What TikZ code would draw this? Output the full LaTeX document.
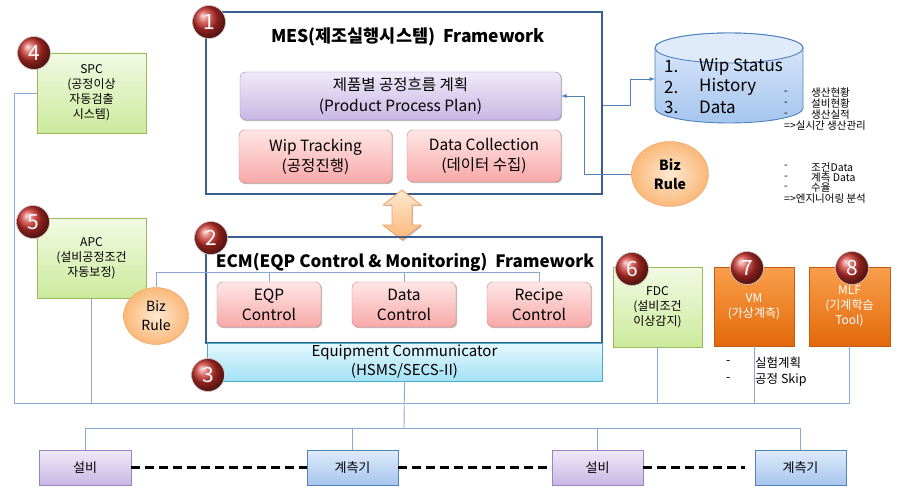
\documentclass[tikz,border=0pt]{standalone}
\usepackage{fontspec}
\setmainfont{Noto Sans CJK KR}
\usetikzlibrary{shapes.geometric,shadows,calc}
\definecolor{frameblue}{HTML}{3A5F8F}
\definecolor{linkblue}{HTML}{4F81BD}
\definecolor{busblue}{HTML}{8AA8D4}
\definecolor{greenT}{HTML}{F2FAE4}
\definecolor{greenB}{HTML}{CCEA9C}
\definecolor{greenD}{HTML}{9BBB59}
\definecolor{pinkT}{HTML}{FFE6E6}
\definecolor{pinkB}{HTML}{F8A8A8}
\definecolor{pinkD}{HTML}{D98080}
\definecolor{purT}{HTML}{EFEAF8}
\definecolor{purB}{HTML}{C8B7E4}
\definecolor{purD}{HTML}{9A84C4}
\definecolor{oraT}{HTML}{FA9F4C}
\definecolor{oraB}{HTML}{E2690A}
\definecolor{oraD}{HTML}{C55A11}
\definecolor{borT}{HTML}{FEE8D0}
\definecolor{borB}{HTML}{FAB879}
\definecolor{borD}{HTML}{F0A060}
\definecolor{cyT}{HTML}{E4F8FE}
\definecolor{cyB}{HTML}{A4E1F6}
\definecolor{cyD}{HTML}{4BACC6}
\definecolor{mbT}{HTML}{DFEBFB}
\definecolor{mbB}{HTML}{A6C5EE}
\definecolor{mbD}{HTML}{4F81BD}
\definecolor{badgeC}{HTML}{C8302A}
\tikzset{
  shad/.style={drop shadow={shadow xshift=1.2pt, shadow yshift=-1.2pt, opacity=0.25, fill=black}},
  frame/.style={draw=frameblue, line width=2.5pt},
  purbox/.style={shad, rounded corners=6pt, draw=purD, top color=purT, bottom color=purB, font=\fontsize{15.5}{21}\selectfont},
  pinkbox/.style={shad, rounded corners=6pt, draw=pinkD, top color=pinkT, bottom color=pinkB, font=\fontsize{15.5}{20}\selectfont},
  greenbox/.style={shad, draw=greenD, top color=greenT, bottom color=greenB, font=\fontsize{12}{15}\selectfont},
  orabox/.style={shad, draw=oraD, top color=oraT, bottom color=oraB, text=white, font=\fontsize{12}{15}\selectfont},
  cyanbox/.style={shad, draw=cyD, top color=cyT, bottom color=cyB, font=\fontsize{15}{19}\selectfont},
  equipbox/.style={shad, draw=purD, top color=purT, bottom color=purB, font=\fontsize{13}{15}\selectfont},
  meterbox/.style={shad, draw=mbD, top color=mbT, bottom color=mbB, font=\fontsize{13}{15}\selectfont},
  bizrule/.style={ellipse, draw=borD, inner color=borT, outer color=borB, font=\fontsize{14}{19}\selectfont},
  badge/.style={circle, minimum size=33pt, ball color=badgeC, draw=gray!40, line width=0.6pt, text=white, font=\fontsize{21}{21}\selectfont},
  link/.style={draw=linkblue, line width=0.9pt},
  bus/.style={draw=busblue, line width=0.9pt},
  note/.style={anchor=west, font=\fontsize{10.5}{11}\selectfont},
  vmnote/.style={anchor=west, font=\fontsize{12.5}{14}\selectfont},
  cyltext/.style={anchor=west, font=\fontsize{17}{20}\selectfont},
}
\begin{document}
\begin{tikzpicture}[x=1pt,y=-1pt, every node/.style={inner sep=0pt, align=center}, >={latex}]
\useasboundingbox (0,0) rectangle (900,500);
\fill[white] (0,0) rectangle (900,500);

% ---- bus lines (background) ----
\coordinate (busL) at (14,403);
\coordinate (busB) at (404,428);

% ---- side boxes ----
\node[greenbox, minimum width=109pt, minimum height=80pt] (spc) at (91.5,93) {SPC\\(공정이상\\자동검출\\시스템)};
\node[greenbox, minimum width=109pt, minimum height=80pt] (apc) at (91.5,258) {APC\\(설비공정조건\\자동보정)};
\node[greenbox, minimum width=89pt, minimum height=80pt] (fdc) at (657.5,307) {FDC\\(설비조건\\이상감지)};
\node[orabox, minimum width=80pt, minimum height=79pt] (vm) at (754,306.5) {VM\\(가상계측)};
\node[orabox, minimum width=81pt, minimum height=79pt] (mlf) at (849.5,306.5) {MLF\\(기계학습\\Tool)};

\draw[bus] (spc.west) -| (busL) -| (mlf.south);
\draw[bus] (apc.south) -- (apc.south |- busL);
\draw[bus] (fdc.south) -- (fdc.south |- busL);
\draw[bus] (vm.south) -- (vm.south |- busL);

% ---- MES frame ----
\node[frame, minimum width=396pt, minimum height=182pt] (mes) at (404,103) {};
\node[font=\fontsize{17.5}{17.5}\selectfont\bfseries] (mestitle) at (408,37) {MES(제조실행시스템)\ \ Framework};
\node[purbox, minimum width=321pt, minimum height=48pt] (ppp) at (400.5,96) {제품별 공정흐름 계획\\(Product Process Plan)};
\node[pinkbox, minimum width=153pt, minimum height=53pt] (wip) at (315.5,156.5) {Wip Tracking\\(공정진행)};
\node[pinkbox, minimum width=154pt, minimum height=52pt] (dcol) at (484,156) {Data Collection\\(데이터 수집)};

% ---- cylinder ----
\shade[top color=mbT, bottom color=mbB, draw=mbD, line width=0.9pt]
  (655,48) -- (655,108) arc[start angle=180, end angle=360, x radius=74pt, y radius=15pt]
  -- (803,48) arc[start angle=0, end angle=180, x radius=74pt, y radius=15pt] -- cycle;
\draw[mbD, line width=0.9pt, fill=mbT] (729,48) ellipse[x radius=74pt, y radius=15pt];
\coordinate (cylW) at (655,79);
\node[cyltext] (c1n) at (664,67) {1.};
\node[cyltext] (c1t) at (699,67) {Wip Status};
\node[cyltext] (c2n) at (664,87) {2.};
\node[cyltext] (c2t) at (699,87) {History};
\node[cyltext] (c3n) at (664,107) {3.};
\node[cyltext] (c3t) at (699,107) {Data};

% ---- notes ----
\node[note] (n1d) at (784,93) {-};
\node[note] (n1) at (811,93) {생산현황};
\node[note] (n2d) at (784,104) {-};
\node[note] (n2) at (811,104) {설비현황};
\node[note] (n3d) at (784,115) {-};
\node[note] (n3) at (811,115) {생산실적};
\node[note] (n4) at (784,126) {=>실시간 생산관리};
\node[note] (g1d) at (784,167) {-};
\node[note] (g1) at (811,167) {조건Data};
\node[note] (g2d) at (784,178) {-};
\node[note] (g2) at (811,178) {계측 Data};
\node[note] (g3d) at (784,188) {-};
\node[note] (g3) at (811,188) {수율};
\node[note] (g4) at (784,199) {=>엔지니어링 분석};

% ---- Biz rule (top) ----
\node[bizrule, minimum width=77pt, minimum height=65pt, font=\fontsize{14}{19}\selectfont\bfseries] (bizA) at (670,174) {Biz\\Rule};
\draw[link, ->] (bizA.west) -| ($(ppp.east)+(23,0)$) -- (ppp.east);
\draw[link, ->] (mes.east |- 0,105) -- ++(27,0) |- (cylW);

% ---- double arrow ----
\shade[top color=borT, bottom color=borB, draw=borD, line width=0.8pt, shad]
  (402,190) -- (421,205) -- (412,205) -- (412,225) -- (421,225) -- (402,240)
  -- (383,225) -- (392,225) -- (392,205) -- (383,205) -- cycle;

% ---- ECM frame ----
\node[frame, minimum width=396pt, minimum height=106pt] (ecm) at (404,290) {};
\coordinate (ecmY) at (0,272);
\node[bizrule, minimum width=65pt, minimum height=57pt] (bizB) at (156,316) {Biz\\Rule};
\node[pinkbox, minimum width=104pt, minimum height=45pt] (eqp) at (269,304.5) {EQP\\Control};
\node[pinkbox, minimum width=104pt, minimum height=45pt] (dctl) at (404,304.5) {Data\\Control};
\node[pinkbox, minimum width=104pt, minimum height=45pt] (rctl) at (539,304.5) {Recipe\\Control};
\draw[bus] (bizB.north) |- (rctl.north |- ecmY) -- (rctl.north);
\draw[bus] (eqp.north) -- (eqp.north |- ecmY);
\draw[bus] (dctl.north) -- (dctl.north |- ecmY);
\node[font=\fontsize{17}{17}\selectfont\bfseries] (ecmtitle) at (405,262) {ECM(EQP Control \& Monitoring)\ \ Framework};
\node[cyanbox, minimum width=395pt, minimum height=38pt] (eqc) at (404.5,362) {Equipment Communicator\\(HSMS/SECS-II)};

% ---- lower bus and equipment ----
\node[equipbox, minimum width=92pt, minimum height=35pt] (e1) at (85,467.5) {설비};
\node[meterbox, minimum width=91pt, minimum height=35pt] (m1) at (352.5,467.5) {계측기};
\node[equipbox, minimum width=91pt, minimum height=35pt] (e2) at (597.5,467.5) {설비};
\node[meterbox, minimum width=91pt, minimum height=35pt] (m2) at (800.5,467.5) {계측기};
\draw[bus] (eqc.south) -- (busB);
\draw[bus] (e1.north) |- (busB);
\draw[bus] (m1.north) |- (busB);
\draw[bus] (e2.north) |- (busB);
\draw[bus] (m2.north) |- (busB);
\draw[line width=2.6pt, dash pattern=on 9pt off 5pt] (e1.east) -- (m1.west);
\draw[line width=2.6pt, dash pattern=on 9pt off 5pt] (m1.east) -- (e2.west);
\draw[line width=2.6pt, dash pattern=on 9pt off 5pt] (e2.east) -- ($(m2.west)+(-10,0)$);

% ---- VM notes ----
\node[vmnote] (v1d) at (726,363) {-};
\node[vmnote] (v1) at (755,363) {실험계획};
\node[vmnote] (v2d) at (726,380) {-};
\node[vmnote] (v2) at (755,380) {공정 Skip};

% ---- badges ----
\node[badge] (b1) at (209,22) {1};
\node[badge] (b2) at (211,238) {2};
\node[badge] (b3) at (208,375) {3};
\node[badge] (b4) at (34,53) {4};
\node[badge] (b5) at (33,222) {5};
\node[badge] (b6) at (632,269) {6};
\node[badge] (b7) at (747,268) {7};
\node[badge] (b8) at (852,268) {8};
\end{tikzpicture}
\end{document}
